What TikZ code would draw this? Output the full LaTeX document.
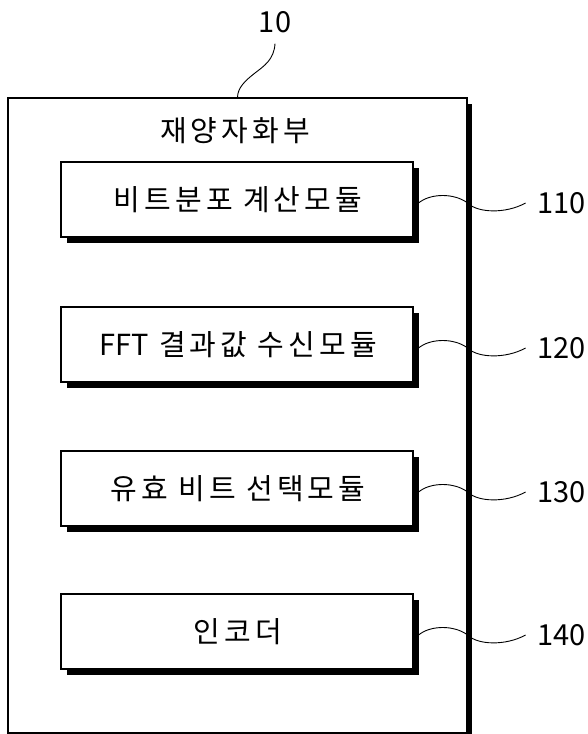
\documentclass[tikz,border=0pt]{standalone}
\usepackage{fontspec}
\setmainfont{Noto Sans CJK KR}
\newfontfamily\spacedko[LetterSpace=14]{Noto Sans CJK KR}
\usetikzlibrary{shadows,calc}
\begin{document}
\begin{tikzpicture}[x=1pt,y=-1pt,
  outerbox/.style={draw, line width=1.1pt, fill=white, minimum width=459pt, minimum height=635pt, inner sep=0pt,
    drop shadow={shadow xshift=4.5pt, shadow yshift=-6pt, fill=black, opacity=1}},
  modbox/.style={draw, line width=1.1pt, fill=white, minimum width=352pt, minimum height=75pt, inner sep=0pt,
    font=\spacedko\fontsize{29}{31}\selectfont,
    drop shadow={shadow xshift=5.5pt, shadow yshift=-5.5pt, fill=black, opacity=1}},
  titletext/.style={inner sep=0pt, font=\spacedko\fontsize{29}{31}\selectfont},
  reflabel/.style={anchor=west, inner sep=0pt, outer xsep=12pt, font=\fontsize{29}{31}\selectfont},
  leader/.style={line width=0.9pt}
]
\useasboundingbox (0,0) rectangle (588,734);

\node[outerbox] (outer) at (237.5,415.5) {};
\node[titletext] (title) at (235,131) {재양자화부};

\node[modbox] (b1) at (237,199.5) {\hspace{2pt}비트분포 계산모듈};
\node[modbox] (b2) at (237,344.5) {\hspace{2pt}{\rmfamily FFT} 결과값 수신모듈};
\node[modbox] (b3) at (237,488.5) {\hspace{2pt}유효 비트 선택모듈};
\node[modbox] (b4) at (237,631.5) {\hspace{2pt}인코더};

% top reference label
\node[inner sep=0pt, outer ysep=11pt, font=\fontsize{29}{31}\selectfont] (l10) at (275,22) {10};
\coordinate (m10) at (255,73);
\draw[leader] (l10.south) .. controls +(-1,16) and +(9,-7) .. (m10)
  .. controls +(-9,7) and +(0,-10) .. (outer.north);

% side reference labels with wavy leaders
\foreach \b/\t in {b1/110, b2/120, b3/130, b4/140} {
  \coordinate (s\b) at ([shift={(5,3.5)}]\b.east);
  \coordinate (c\b) at (outer.east |- s\b);
  \node[reflabel] (l\t) at ($(s\b)+(107,0)$) {\t};
  \draw[leader] (s\b) .. controls +(12,-10) and +(-13,-10) .. (c\b)
    .. controls +(10,10) and +(-20,11) .. (l\t.west);
}
\end{tikzpicture}
\end{document}
